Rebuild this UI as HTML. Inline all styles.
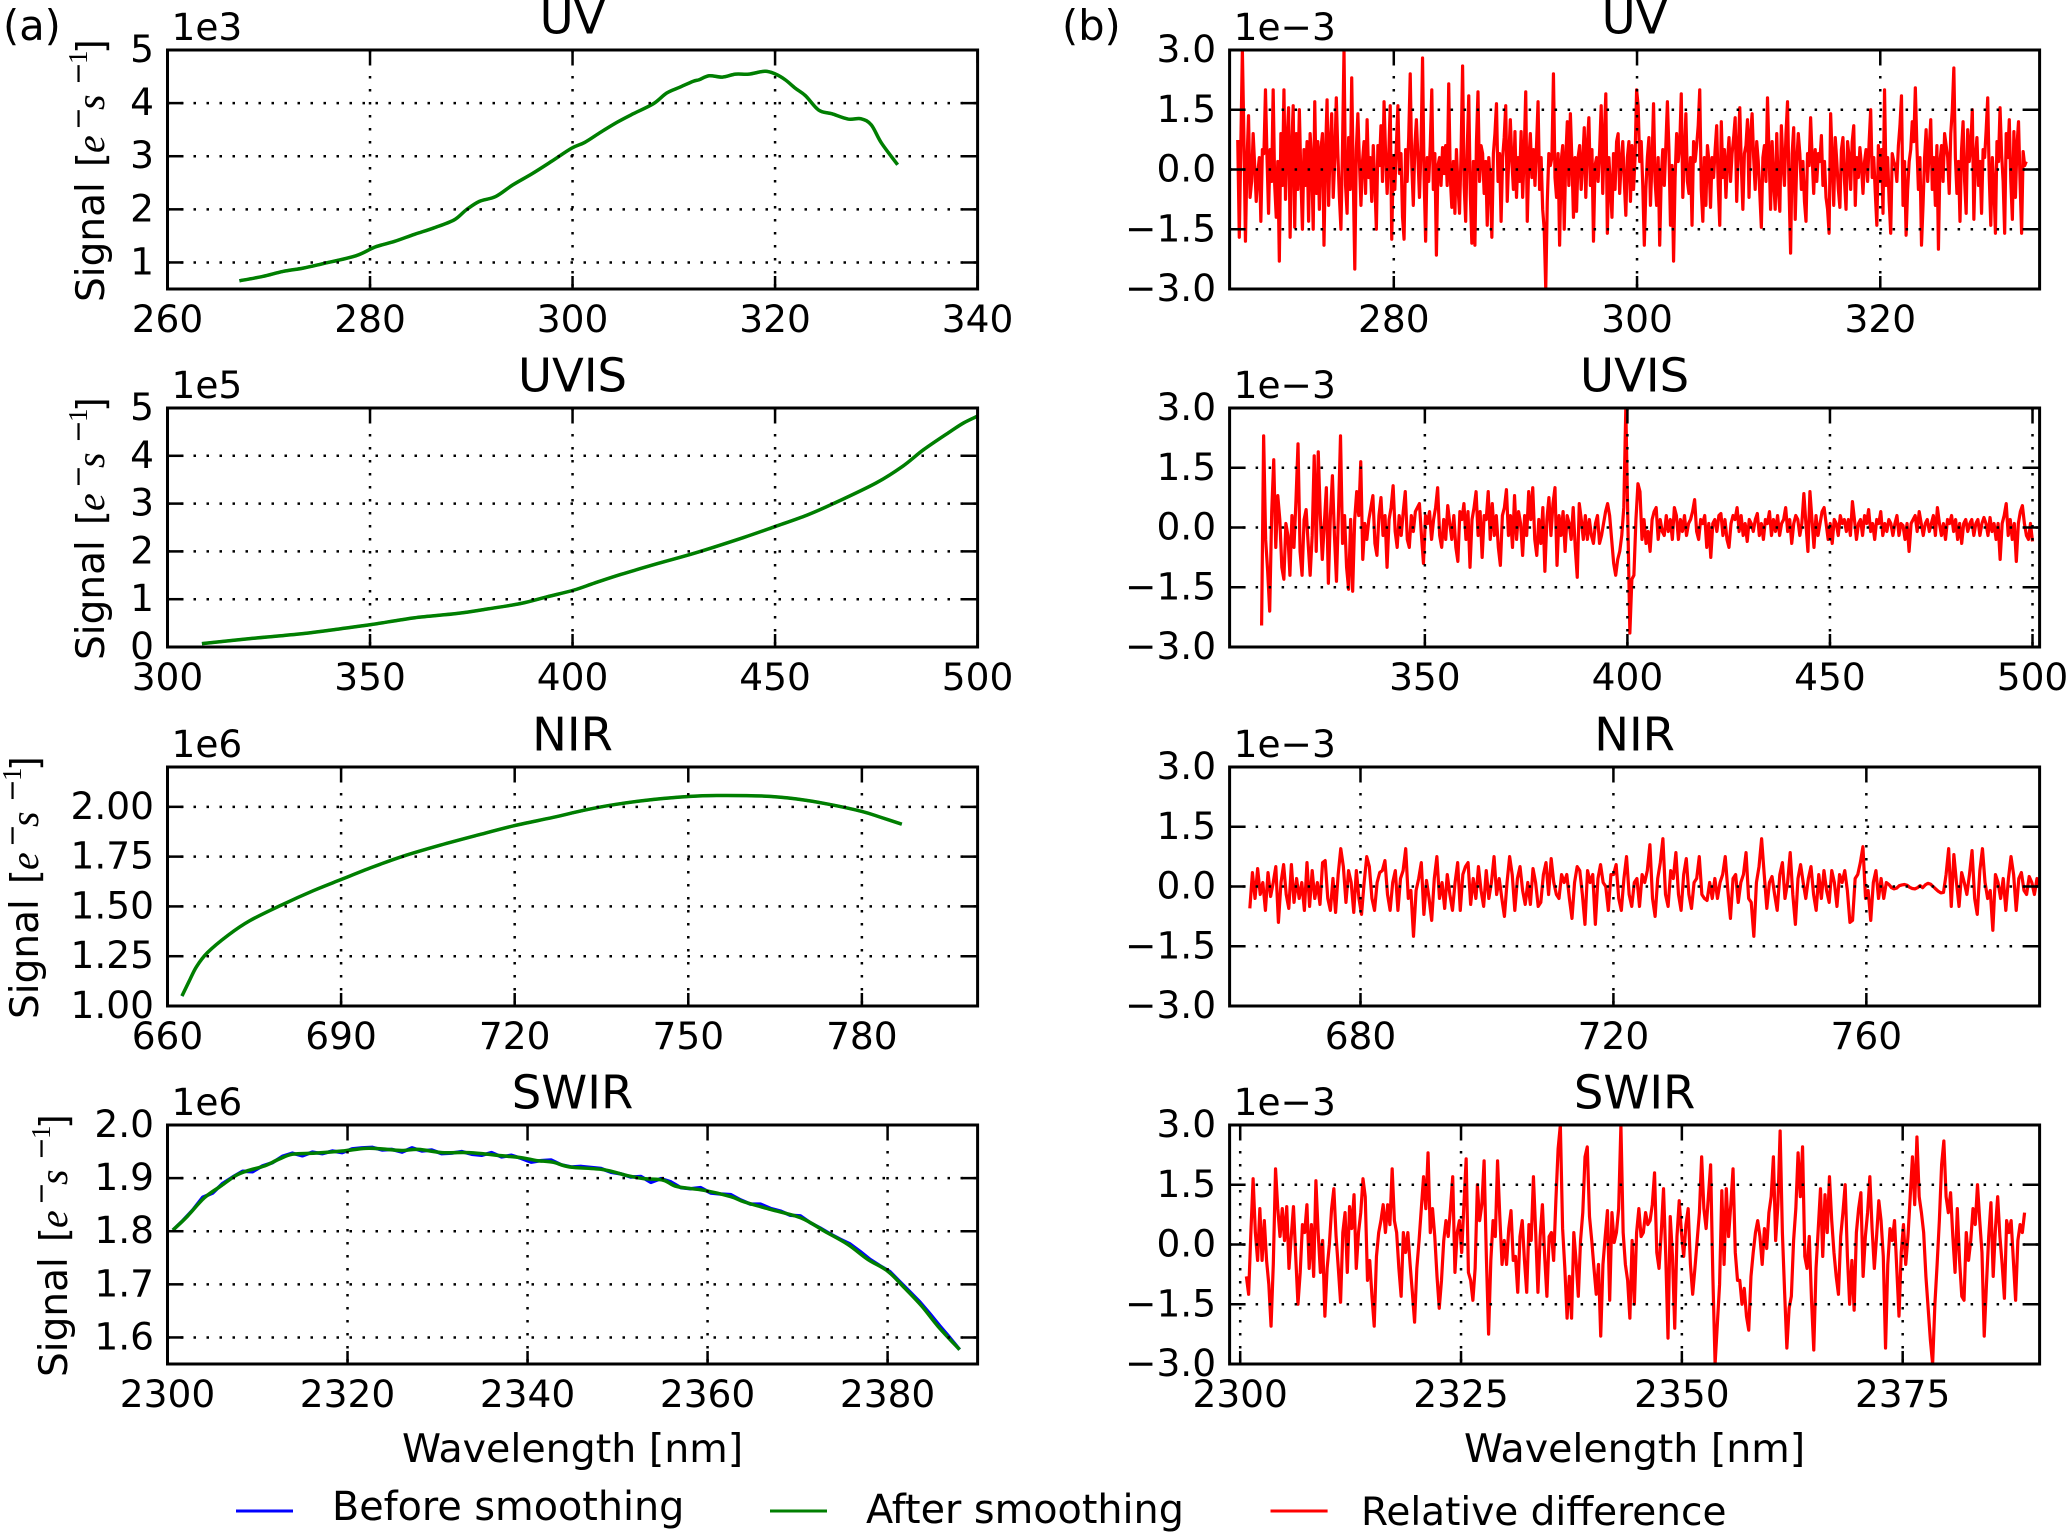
<!DOCTYPE html>
<html lang="en">
<head>
<meta charset="utf-8">
<title>Signal before and after smoothing</title>
<style>
html,body{margin:0;padding:0;background:#fff;}
svg{display:block;font-family:"DejaVu Sans","Liberation Sans",sans-serif;fill:#000;}
</style>
</head>
<body>
<svg id="figure" xmlns="http://www.w3.org/2000/svg" width="2067" height="1534" viewBox="0 0 2067 1534"></svg>
<script>
const uvWavelength=[267.1,269.4,271.4,273.4,275.3,278.6,280.5,282.4,284.4,286.3,288.3,289.5,290.8,292.4,294.1,296,297.9,299.9,301.2,302.8,304.4,306,308,309.3,310.6,311.9,312.5,313.5,314.8,316.1,317.4,319,320,321,322,323,324.3,325.6,327.2,328.5,329.5,330.5,332.1];
const uvSmoothed=[.655,.736,.83,.893,.975,1.125,1.29,1.395,1.53,1.65,1.8,1.99,2.15,2.24,2.46,2.67,2.9,3.15,3.26,3.455,3.64,3.8,3.99,4.19,4.3,4.41,4.44,4.515,4.49,4.545,4.545,4.6,4.55,4.44,4.28,4.14,3.87,3.8,3.7,3.705,3.59,3.25,2.84];
const uvisWavelength=[308.5,320.3,333.4,342.6,350.4,360.9,371.4,379.3,387.2,393.7,400.3,405.5,412,421.2,430.4,442.2,450,457.9,464.4,474.9,481.5,486.7,493.3,496.6,500];
const uvisSmoothed=[.07,.175,.28,.38,.47,.61,.7,.8,.91,1.05,1.19,1.34,1.52,1.75,1.97,2.29,2.52,2.76,3,3.43,3.78,4.13,4.51,4.69,4.83];
const nirWavelength=[662.5,663.7,665,666.9,670.5,674.2,679.7,685.2,690,695.3,700.8,707.2,713.6,720,726.5,732,737.4,743.9,750,754.9,763.1,768.6,774.1,780,783.3,786.9];
const nirSmoothed=[1.05,1.122,1.197,1.268,1.356,1.428,1.507,1.579,1.635,1.696,1.753,1.808,1.858,1.906,1.946,1.983,2.012,2.037,2.052,2.057,2.054,2.04,2.014,1.977,1.947,1.913];
const swirWavelength=[2300.6,2302.2,2304.1,2306,2307.6,2308.9,2310.8,2312.3,2313.9,2316.4,2319.4,2322,2323.8,2326,2327.9,2330.5,2333.5,2337.2,2339.5,2341,2342.8,2344.7,2348.4,2351,2352.9,2355.1,2356.6,2359.6,2362.6,2364.1,2367,2370.4,2373,2375.6,2377.8,2380,2381.9,2383.8,2385.6,2388];
const swirSmoothed=[1.802,1.828,1.863,1.886,1.905,1.914,1.923,1.935,1.945,1.947,1.951,1.956,1.955,1.952,1.954,1.948,1.948,1.942,1.938,1.933,1.93,1.921,1.916,1.905,1.899,1.896,1.884,1.877,1.865,1.855,1.841,1.825,1.8,1.775,1.747,1.725,1.693,1.659,1.621,1.577];
const swirBefore=[1.802,1.82,1.84,1.864,1.872,1.89,1.902,1.913,1.912,1.923,1.929,1.941,1.947,1.942,1.949,1.946,1.951,1.948,1.955,1.957,1.958,1.953,1.954,1.949,1.957,1.951,1.953,1.946,1.947,1.95,1.945,1.943,1.948,1.94,1.943,1.937,1.93,1.933,1.934,1.925,1.921,1.922,1.92,1.918,1.911,1.908,1.902,1.903,1.892,1.899,1.893,1.882,1.88,1.882,1.872,1.87,1.869,1.859,1.851,1.851,1.843,1.838,1.83,1.829,1.816,1.806,1.795,1.785,1.776,1.762,1.747,1.735,1.724,1.705,1.686,1.667,1.645,1.622,1.6,1.577];
const swirBeforeStart=2300.6;
const swirBeforeEnd=2388;

const uvDiffStart=267.17;
const uvDiffEnd=332.0;
const uvDiff=[
.74,-1.7,.6,3.0,.8,-1.8,.2,1.35,-.7,-.3,.9,.1,-.8,-.1,.3,-1.3,.5,.4,2.0,.3,
-1.1,.5,-.3,2.0,-.4,-1.2,.2,-2.3,.9,-.4,2.0,-.75,.7,1.55,-1.7,.5,1.6,-1.45,.9,-.5,
1.5,-.2,-1.5,.5,-.4,.7,-1.3,.9,.2,-1.5,1.7,-.6,.7,-1.0,.5,.9,-1.9,.4,1.75,-.9,
.6,1.4,-.7,.3,1.8,.4,-.7,-1.5,.5,3.0,-.4,-1.1,.8,-.5,2.3,-.2,-2.5,.5,1.4,.2,
-.9,.2,.7,-.6,1.25,-.2,.3,-.8,.6,-.3,-1.5,.6,.1,1.1,-.3,1.7,.4,-.6,.3,1.6,
-1.75,.3,-.5,.6,1.6,-.1,.4,-1.2,-1.75,.5,-.3,.8,2.4,.1,-.9,.6,1.25,.3,-.7,.5,
2.8,-.2,-1.8,.3,-.3,.6,2.0,-.5,.4,-2.15,.1,.3,-.4,.55,-.1,.6,-.4,2.15,-.2,-.95,
.2,-1.1,.5,-.4,-1.1,.4,2.6,-.4,-1.3,.5,1.85,-.6,-1.85,.2,-1.9,.7,1.95,-.3,.6,.4,
-.6,.2,-1.4,.3,-.3,-1.7,.4,.9,1.65,-.3,.4,-1.3,.3,.8,1.6,-.8,.3,1.25,.2,-.5,
.95,-.7,.3,-.3,.95,-.7,.4,1.95,-1.3,.2,.9,-.2,.5,-.4,.6,1.7,-.5,.3,-1.0,-1.5,
-3.0,-.8,.4,.1,.3,2.4,-.2,-.7,.4,-1.9,.2,.6,-1.5,.3,1.2,-.4,1.4,.2,-1.2,.3,
-1.05,.3,.6,-.5,.2,1.05,-.7,.6,1.3,-.4,.5,-1.8,.1,.3,-.3,.5,1.6,-.6,.8,1.9,
-1.6,.3,-.4,-1.2,.4,-.5,.7,.9,-.6,.2,.7,-.3,-1.15,.3,.7,-.8,.6,-.5,.3,2.0,
1.6,.2,.7,-.4,-1.9,-.5,.3,.8,-.9,.2,1.65,-.3,-.9,.3,-1.9,-.2,.5,-.4,.6,1.7,
.5,-1.4,.1,-2.3,-.2,.9,.2,.6,1.9,-.7,.3,1.4,-.3,-.6,.3,-1.4,.7,.2,.6,1.1,
2.0,-.5,-1.3,.3,-.9,.6,.2,-.95,.3,-.2,.5,1.1,-.4,-1.4,1.2,-.2,.5,-.7,.2,.8,
-.3,.4,.8,1.3,-.8,.5,1.55,.1,-1.0,.4,.6,1.25,-.7,.9,1.4,.3,-.5,.7,.2,-.6,
-1.45,.3,.6,-.3,1.8,.4,-1.0,.7,-.3,-1.0,.9,-.5,-1.05,1.1,.2,-.4,.9,1.7,-.5,-2.1,
.4,1.05,-1.25,.2,.9,.4,-.5,.2,-.8,-1.3,.4,.1,1.3,.3,-.6,.5,-.3,.4,.2,.85,
-.4,.2,-.7,-1.0,-1.6,1.4,.3,-.9,.8,.2,-.5,-.95,.5,.8,-.3,-1.0,.7,.3,-.5,.7,
1.1,-.9,.3,-.2,.55,.1,-.6,.2,.5,-.3,.7,1.5,-.2,.3,-.6,-1.4,.6,-.3,.5,-1.1,
2.0,-.4,.3,-.8,-1.6,.4,.2,.1,-.3,.6,1.1,1.85,-.9,.2,-1.65,-.5,.2,.5,1.2,.7,
2.05,.6,-.5,.3,-1.9,-.9,.3,1.0,-.3,.5,1.25,-.5,.3,-.9,.6,-2.0,.2,.6,-.3,.9,
.6,.3,-.6,.9,1.5,2.55,.3,-.6,.2,-1.3,.5,1.2,-.3,-1.1,1.0,.2,.6,1.5,-1.25,.3,
.8,-.4,.2,-1.1,.5,.3,1.0,1.8,-.2,-1.4,.3,-.4,-1.6,.7,.2,1.55,.4,-.3,-1.6,.9,
.3,1.25,-.3,-1.25,.95,-.7,.6,1.2,-.3,-1.6,.45,.1,.2];
const uvisDiffStart=309.7;
const uvisDiffEnd=500;
const uvisDiff=[
-2.46,2.3,-.3,-1.1,-2.1,.4,1.7,-.5,.8,.2,-1.0,-1.3,.1,-.2,-1.2,.3,-.5,.7,2.1,-.6,
-1.2,.2,.45,-.4,-1.2,-.2,1.8,-.6,1.9,.3,-.8,.1,1.0,-1.4,.3,1.3,-.2,-1.35,.4,2.3,
-.4,.3,-1.0,-1.55,.2,-1.6,.2,.9,.3,1.65,-.8,.1,-.3,.2,.5,.8,-.4,-.7,.3,.75,
-.2,.3,-1.0,.2,.5,1.05,-.1,-.5,.3,-.2,.4,.9,-.3,-.5,.3,-.1,.4,.5,.6,-.2,
-.9,.3,.1,.4,-.3,.2,.5,1.0,-.2,-.5,.2,-.3,.55,.1,-.3,.3,-.5,-.85,.4,.2,
.6,-.3,.4,-1.0,.2,.5,.9,-.2,.4,-.75,.3,.2,.9,-.3,.6,-.2,.3,-.5,-.95,.3,
.5,.95,-.2,.3,-.5,.8,-.3,.4,.1,-.7,.3,-.2,.9,.2,1.0,-.3,-.7,.2,-.4,.5,
-1.1,.2,.75,-.2,.6,1.0,-.95,.3,-.2,.4,-.6,.3,.1,-.3,.5,-.5,-1.25,.6,.2,-.3,
.3,-.3,.2,-.2,-.4,.1,.3,-.4,-.2,.1,.4,.6,.3,-.3,-.9,-1.2,-.8,-.6,-.2,.5,
3.0,.2,-2.65,-1.3,-1.2,.2,1.1,.9,-.3,.2,-.4,-.1,-.6,.2,.4,.5,-.3,.2,-.1,-.2,
.3,-.1,.2,-.3,.5,.3,-.3,.2,-.1,.3,-.2,.1,.2,.4,.7,-.1,-.3,.2,.1,.3,
-.5,.1,-.75,.1,.2,-.1,.3,.35,-.2,.2,-.3,-.5,.1,.3,.2,.5,-.1,.3,-.2,.1,
-.35,.2,.1,-.1,.2,.35,-.2,.1,-.3,.2,.1,.4,-.2,.2,-.1,.3,-.2,.1,.2,.5,
-.1,.2,-.4,.1,.3,.2,-.2,.1,.85,.1,-.6,.9,.2,-.5,.3,-.2,.1,.4,.5,.1,
-.3,.1,-.4,.2,.1,-.2,.3,.1,.2,-.1,.2,-.2,.65,.2,-.3,.1,.2,-.2,.3,.1,
.45,-.1,.1,-.3,.2,.1,.4,-.2,.1,-.1,.2,.1,-.2,.1,.3,-.2,.1,.05,-.3,.1,
-.6,.1,.2,.3,-.1,.4,.1,-.2,.1,.2,-.1,.1,.3,-.2,.5,.1,-.2,.1,-.3,.2,
.1,.3,-.1,.2,-.3,.1,-.4,.1,.2,-.1,.1,.2,-.2,.1,.2,-.2,.1,.25,.1,-.2,
.25,-.1,.1,-.3,.1,-.8,.1,.3,.6,-.2,.2,-.3,.1,-.85,.1,.4,.55,.1,-.2,-.3,.1,-.35];
const nirDiffStart=662.5;
const nirDiffEnd=787.4;
const nirDiff=[
-.55,.35,-.3,.45,-.2,.1,-.6,.35,-.25,.1,.5,-.9,.1,.55,-.2,-.55,.55,-.4,.2,-.3,
.1,-.6,.6,-.5,.4,-.3,.1,-.45,.6,.65,-.3,-.6,.2,-.65,.3,.95,.5,-.4,.4,.1,
-.65,.4,-.3,-.7,.1,.75,.5,-.3,-.6,.1,.35,.4,.65,-.2,-.6,.1,.4,-.6,.2,.4,
.95,-.3,-.1,-1.25,-.1,.2,.6,-.7,.15,-.3,-.85,.2,.75,-.3,.1,-.55,.3,-.2,-.6,.1,
.6,-.6,.3,.5,.6,-.45,.2,-.3,.5,-.1,-.5,.4,-.3,.1,.75,-.2,.2,-.3,-.75,.1,
.75,.3,-.6,.2,.5,-.1,-.45,.1,-.45,.45,.1,-.5,-.4,.3,.6,-.2,.7,.1,-.2,-.3,
.3,.1,.3,-.3,-.8,.1,.5,.4,-.2,-.95,.4,.1,.3,-.95,.2,.55,.1,0,-.6,.3,
.3,.55,-.3,-.6,.2,.75,-.2,-.5,.1,.2,-.5,.3,.1,.4,1.05,-.3,-.75,.2,.6,1.2,
-.2,-.5,.4,.2,.85,-.2,-.6,.3,.7,-.2,-.55,.1,.2,.75,-.2,-.3,-.35,.1,-.3,.2,
-.3,.1,.3,.75,-.1,-.8,.2,.3,-.4,.1,.3,.85,-.3,-.4,-1.25,.1,.5,1.2,.3,-.55,
.1,.25,-.2,-.6,.3,.6,-.3,.1,.85,-.2,-.95,.2,.55,.1,-.3,.2,.5,-.2,-.6,.3,
-.3,.4,-.1,-.4,.4,.1,-.5,.3,.1,.4,-.1,-.9,-.85,.2,.3,.6,1.0,-.3,-.1,-.85,
.1,.4,-.3,.2,-.3,.1,.05,-.03,-.06,-.04,.02,.04,.05,.03,-.02,-.05,-.06,-.03,.02,-.03,
.04,.08,.06,0,-.06,-.12,-.16,-.15,.3,.95,-.5,.8,.1,-.5,.35,.1,-.2,.3,.9,-.3,
-.7,.4,.95,.1,-.3,-.1,-1.1,.3,.1,-.3,.2,-.6,.2,.75,.3,-.6,.2,.35,-.1,-.2,
.25,.1,-.2,.2,0];
const swirDiffStart=2300.7;
const swirDiffEnd=2388.8;
const swirDiff=[
-.8,-1.25,.3,1.65,.3,-.4,.9,-.4,.6,-.4,-1.0,-2.05,-.5,1.9,.9,.2,.9,.1,.95,-.6,
.2,.95,-.3,-1.5,-.7,.5,.3,1.0,-.6,.5,-.8,1.6,.3,-.7,.1,-1.8,-.6,0,.9,1.4,
.2,-.6,-1.45,.3,.8,-.7,.95,.4,1.25,-.6,.3,.8,1.65,1.2,-.9,-.4,-1.3,-2.05,-.3,.3,
.6,1.0,.3,1.0,.5,1.9,.6,.3,-.6,-1.3,.3,-.2,.3,-.5,-1.2,-1.95,-.6,.1,.9,1.7,
.9,2.3,.3,.9,.2,-.8,-1.6,-.9,.1,.6,.2,.9,1.7,-.7,.3,.6,-.2,1.0,2.15,-.7,
-.9,-1.4,-.6,1.5,.6,1.0,2.1,-.3,-2.25,-.4,.6,.2,2.1,.7,-.5,.1,-.5,.4,.85,-.4,
-.3,-1.2,.2,.6,-.4,-1.2,.5,.1,1.7,.3,-1.2,.2,1.0,-.3,-1.3,.2,.3,-.4,1.1,2.4,
3.0,.4,-.6,-1.85,-.8,-1.85,.3,-.4,-1.3,.1,.8,2.2,2.45,.7,.1,-.6,-1.25,-.5,-2.3,-.5,
.2,.85,-1.4,.8,.05,.3,.9,3.0,.3,-.5,-.9,-1.85,.1,-1.5,.3,.9,.2,.3,.8,.5,
.6,1.0,1.8,-.2,-.6,.3,1.4,-.3,-2.35,.7,-.3,-2.1,.2,1.1,.3,-.3,.5,.9,-.5,-1.25,
-.6,.1,.8,2.2,.9,.4,1.2,2.0,-.8,-3.0,-2.0,-1.0,1.35,-.5,1.4,.2,1.0,1.9,-.2,-.9,
-.9,-1.5,-1.1,-1.8,-2.15,-.8,-.2,.3,.6,.2,-.5,.4,-.1,.8,1.2,2.2,.1,1.0,2.85,.3,
-1.2,-2.6,-1.6,-1.3,.1,.9,2.3,1.2,2.45,-.3,-.6,.2,-1.4,-2.65,-.6,.4,1.4,-.3,1.25,.3,
1.7,.6,-.2,-.8,-1.25,.2,.8,1.5,-.3,-1.5,-.4,-1.65,.3,.9,1.3,-.8,.2,.8,1.7,.4,
-.6,.2,1.1,.6,-.3,-2.6,-.5,.4,.1,.6,-.6,-1.8,-.2,.5,-.5,.2,1.2,2.2,1.0,2.7,
1.2,.8,.3,-.8,-1.6,-2.4,-3.0,-1.5,-.5,.6,2.0,2.6,1.2,.8,1.3,.2,-.7,.9,-.4,-1.3,
-1.4,.3,-.4,.1,.9,.5,1.5,.6,-.2,-2.3,-1.0,.2,1.05,-.8,.4,1.2,.2,-.5,-1.35,.6,
.3,.6,-.4,-1.4,.1,.5,.3,.8];

const uvXTicks=[260,280,300,320,340];
const uvisXTicks=[300,350,400,450,500];
const nirXTicks=[660,690,720,750,780];
const swirXTicks=[2300,2320,2340,2360,2380];
const uvDiffXTicks=[280,300,320];
const uvisDiffXTicks=[350,400,450,500];
const nirDiffXTicks=[680,720,760];
const swirDiffXTicks=[2300,2325,2350,2375];
const uvYTicks=[1,2,3,4,5];
const uvisYTicks=[0,1,2,3,4,5];
const nirYTicks=[1,1.25,1.5,1.75,2];
const swirYTicks=[1.6,1.7,1.8,1.9,2];
const diffYTicks=[-3,-1.5,0,1.5,3];

const NS='http://www.w3.org/2000/svg';
const fig=document.getElementById('figure');
let clipCount=0;

function mk(tag,attrs,parent,txt){
  const e=document.createElementNS(NS,tag);
  for(const k in attrs){e.setAttribute(k,attrs[k]);}
  if(txt!==undefined){e.textContent=txt;}
  (parent||fig).appendChild(e);
  return e;
}
function evenly(start,end,n){
  const out=[];
  for(let i=0;i<n;i++){out.push(start+(end-start)*i/(n-1));}
  return out;
}
function pathOf(xs,ys,sx,sy,smooth){
  const px=xs.map(sx),py=ys.map(sy);
  let d='M'+px[0].toFixed(2)+' '+py[0].toFixed(2);
  for(let i=1;i<px.length;i++){
    if(smooth){
      const a=Math.max(i-2,0),b=i-1,c=i,e=Math.min(i+1,px.length-1);
      const c1x=px[b]+(px[c]-px[a])/6,c1y=py[b]+(py[c]-py[a])/6;
      const c2x=px[c]-(px[e]-px[b])/6,c2y=py[c]-(py[e]-py[b])/6;
      d+='C'+c1x.toFixed(2)+' '+c1y.toFixed(2)+' '+c2x.toFixed(2)+' '+c2y.toFixed(2)+' '+px[c].toFixed(2)+' '+py[c].toFixed(2);
    }else{
      d+='L'+px[i].toFixed(2)+' '+py[i].toFixed(2);
    }
  }
  return d;
}

function drawPanel(cfg){
  const L=cfg.left,R=cfg.right,T=cfg.top,B=T+239;
  const sx=v=>L+(v-cfg.xmin)/(cfg.xmax-cfg.xmin)*(R-L);
  const sy=v=>B-(v-cfg.ymin)/(cfg.ymax-cfg.ymin)*(B-T);
  const g=mk('g',{},fig);
  
  

  const id='clip'+(clipCount++);
  const cp=mk('clipPath',{id:id},g);
  mk('rect',{x:L,y:T,width:R-L,height:B-T},cp);

  const plot=mk('g',{'clip-path':'url(#'+id+')'},g);
  cfg.series.forEach(function(s){
    const line=mk('path',{d:pathOf(s.x,s.y,sx,sy,s.smooth),fill:'none',stroke:s.color,'stroke-width':s.width,'stroke-linejoin':'round'},plot);
    
    
  });

  cfg.xticks.forEach(function(v){
    const x=sx(v);
    if(x>L+1&&x<R-1){
      const gl=mk('line',{x1:x,x2:x,y1:T,y2:B,stroke:'#000','stroke-width':2.5,'stroke-dasharray':'2.5 10.5'},plot);
      
      
    }
    const t1=mk('line',{x1:x,x2:x,y1:B,y2:B-13,stroke:'#000','stroke-width':2.5},g);
    
    
    const t2=mk('line',{x1:x,x2:x,y1:T,y2:T+13,stroke:'#000','stroke-width':2.5},g);
    
    
    const lab=mk('text',{x:x,y:B+43,'text-anchor':'middle','font-size':37.5},g,String(v));
    
    
  });

  cfg.yticks.forEach(function(v){
    const y=sy(v);
    if(y>T+1&&y<B-1){
      const gl=mk('line',{x1:L,x2:R,y1:y,y2:y,stroke:'#000','stroke-width':2.5,'stroke-dasharray':'2.5 10.5'},plot);
      
      
    }
    const t1=mk('line',{x1:L,x2:L+16,y1:y,y2:y,stroke:'#000','stroke-width':2.5},g);
    
    
    const t2=mk('line',{x1:R,x2:R-16,y1:y,y2:y,stroke:'#000','stroke-width':2.5},g);
    
    
    const lab=mk('text',{x:L-13.5,y:y+12,'text-anchor':'end','font-size':37.5},g,v.toFixed(cfg.ydec).replace('-','\u2212'));
    
    
  });

  const frame=mk('rect',{x:L,y:T,width:R-L,height:B-T,fill:'none',stroke:'#000','stroke-width':3},g);
  
  

  const title=mk('text',{x:(L+R)/2,y:T-16.7,'text-anchor':'middle','font-size':46.5},g,cfg.title);
  
  

  const off=mk('text',{x:L+4,y:T-10,'font-size':37.5},g,cfg.offset);
  
  

  if(cfg.ylabelX){
    const yl=mk('g',{transform:'translate('+cfg.ylabelX+','+(B+13)+') rotate(-90)'},g);
    
    
    const mathFont='"Liberation Serif",serif';
    mk('text',{x:0,y:0,'font-size':39},yl,'Signal');
    mk('text',{x:135,y:0,'font-size':38},yl,'[');
    mk('text',{x:149,y:0,'font-size':40,'font-style':'italic','font-family':mathFont},yl,'e');
    mk('text',{x:172,y:-17,'font-size':27},yl,'\u2212');
    mk('text',{x:192,y:0,'font-size':40,'font-style':'italic','font-family':mathFont},yl,'s');
    mk('text',{x:217,y:-17,'font-size':27},yl,'\u2212');
    mk('text',{x:238,y:-17,'font-size':27,'font-family':mathFont},yl,'1');
    mk('text',{x:248,y:0,'font-size':38},yl,']');
  }
  if(cfg.xlabel){
    const xl=mk('text',{x:(L+R)/2,y:1462,'text-anchor':'middle','font-size':39.5},g,'Wavelength [nm]');
    
    
  }
}

const LL=167.5,LR=977.6,RL=1229.6,RR=2039.6;
const BLUE='#0000ff',GREEN='#007f00',RED='#ff0000';

drawPanel({id:'uv-signal',title:'UV',offset:'1e3',left:LL,right:LR,top:50,xmin:260,xmax:340,ymin:.5,ymax:5,ydec:0,xticks:uvXTicks,yticks:uvYTicks,ylabelX:104,
  series:[{name:'before-smoothing',color:BLUE,width:3,smooth:true,x:uvWavelength,y:uvSmoothed},{name:'after-smoothing',color:GREEN,width:3.5,smooth:true,x:uvWavelength,y:uvSmoothed}]});
drawPanel({id:'uvis-signal',title:'UVIS',offset:'1e5',left:LL,right:LR,top:408,xmin:300,xmax:500,ymin:0,ymax:5,ydec:0,xticks:uvisXTicks,yticks:uvisYTicks,ylabelX:104,
  series:[{name:'before-smoothing',color:BLUE,width:3,smooth:true,x:uvisWavelength,y:uvisSmoothed},{name:'after-smoothing',color:GREEN,width:3.5,smooth:true,x:uvisWavelength,y:uvisSmoothed}]});
drawPanel({id:'nir-signal',title:'NIR',offset:'1e6',left:LL,right:LR,top:767,xmin:660,xmax:800,ymin:1,ymax:2.2,ydec:2,xticks:nirXTicks,yticks:nirYTicks,ylabelX:38,
  series:[{name:'before-smoothing',color:BLUE,width:3,smooth:true,x:nirWavelength,y:nirSmoothed},{name:'after-smoothing',color:GREEN,width:3.5,smooth:true,x:nirWavelength,y:nirSmoothed}]});
drawPanel({id:'swir-signal',title:'SWIR',offset:'1e6',left:LL,right:LR,top:1125,xmin:2300,xmax:2390,ymin:1.55,ymax:2,ydec:1,xticks:swirXTicks,yticks:swirYTicks,ylabelX:67,xlabel:true,
  series:[{name:'before-smoothing',color:BLUE,width:3.5,x:evenly(swirBeforeStart,swirBeforeEnd,swirBefore.length),y:swirBefore},{name:'after-smoothing',color:GREEN,width:3.5,smooth:true,x:swirWavelength,y:swirSmoothed}]});

drawPanel({id:'uv-difference',title:'UV',offset:'1e\u22123',left:RL,right:RR,top:50,xmin:266.5,xmax:333.1,ymin:-3,ymax:3,ydec:1,xticks:uvDiffXTicks,yticks:diffYTicks,
  series:[{name:'relative-difference',color:RED,width:3.2,x:evenly(uvDiffStart,uvDiffEnd,uvDiff.length),y:uvDiff}]});
drawPanel({id:'uvis-difference',title:'UVIS',offset:'1e\u22123',left:RL,right:RR,top:408,xmin:301.8,xmax:501.75,ymin:-3,ymax:3,ydec:1,xticks:uvisDiffXTicks,yticks:diffYTicks,
  series:[{name:'relative-difference',color:RED,width:3.2,x:evenly(uvisDiffStart,uvisDiffEnd,uvisDiff.length),y:uvisDiff}]});
drawPanel({id:'nir-difference',title:'NIR',offset:'1e\u22123',left:RL,right:RR,top:767,xmin:659.3,xmax:787.4,ymin:-3,ymax:3,ydec:1,xticks:nirDiffXTicks,yticks:diffYTicks,
  series:[{name:'relative-difference',color:RED,width:3.2,x:evenly(nirDiffStart,nirDiffEnd,nirDiff.length),y:nirDiff}]});
drawPanel({id:'swir-difference',title:'SWIR',offset:'1e\u22123',left:RL,right:RR,top:1125,xmin:2298.8,xmax:2390.5,ymin:-3,ymax:3,ydec:1,xticks:swirDiffXTicks,yticks:diffYTicks,xlabel:true,
  series:[{name:'relative-difference',color:RED,width:3.2,x:evenly(swirDiffStart,swirDiffEnd,swirDiff.length),y:swirDiff}]});

const labelA=mk('text',{x:3,y:40,'font-size':41.5},fig,'(a)');


const labelB=mk('text',{x:1062,y:40,'font-size':41.5},fig,'(b)');



const legend=mk('g',{},fig);


const legendBefore=mk('g',{},legend);


mk('line',{x1:236,x2:293,y1:1511,y2:1511,stroke:BLUE,'stroke-width':3},legendBefore);
mk('text',{x:332,y:1520,'font-size':39.7},legendBefore,'Before smoothing');
const legendAfter=mk('g',{},legend);


mk('line',{x1:770,x2:827,y1:1511,y2:1511,stroke:GREEN,'stroke-width':3},legendAfter);
mk('text',{x:866,y:1523,'font-size':39.7},legendAfter,'After smoothing');
const legendRel=mk('g',{},legend);


mk('line',{x1:1270.5,x2:1327.6,y1:1511,y2:1511,stroke:RED,'stroke-width':3},legendRel);
mk('text',{x:1361,y:1525,'font-size':39},legendRel,'Relative difference');
</script>
</body>
</html>
